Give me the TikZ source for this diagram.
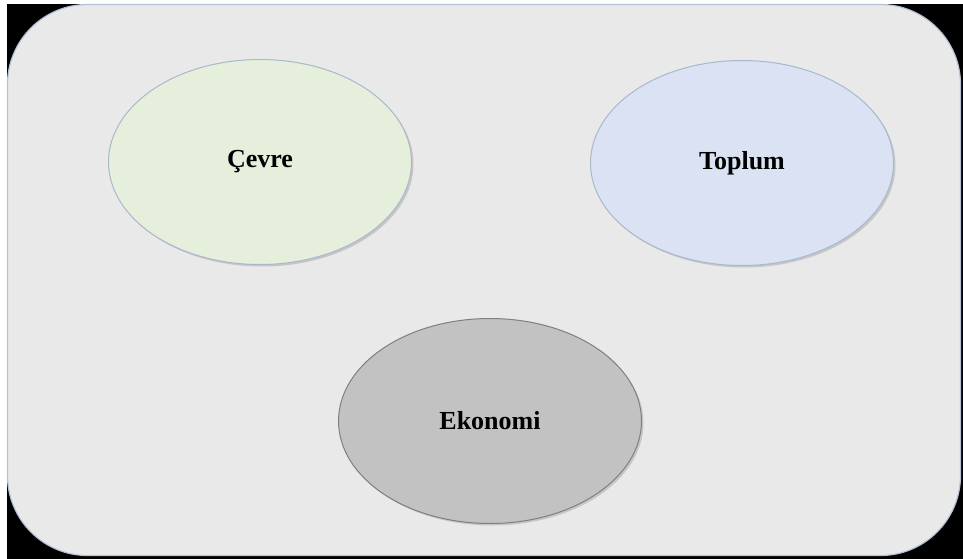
\documentclass[tikz,border=0pt]{standalone}
\usepackage{fontspec}
\setmainfont{Liberation Serif}
\usetikzlibrary{shapes.geometric,shadows}
\definecolor{panel}{HTML}{E9E9E9}
\definecolor{panelline}{HTML}{B3C2D6}
\definecolor{greenfill}{HTML}{E5EFDC}
\definecolor{bluefill}{HTML}{DAE2F4}
\definecolor{grayfill}{HTML}{C2C2C2}
\definecolor{ovalline}{HTML}{A9B8CC}
\definecolor{grayline}{HTML}{7F7F7F}
\tikzset{
  oval/.style={ellipse, minimum width=303pt, minimum height=205pt, inner sep=0pt,
    draw=ovalline, line width=1pt, font=\bfseries\fontsize{26}{30}\selectfont,
    drop shadow={shadow xshift=2pt, shadow yshift=-2pt, fill=black, opacity=0.15}},
}
\begin{document}
\begin{tikzpicture}[x=1pt,y=-1pt]
\useasboundingbox (0,0) rectangle (963,559);
\fill[white] (0,0) rectangle (963,559);
\fill[black] (7,4) rectangle (963,559);
\node[draw=panelline, fill=panel, line width=1.2pt, rounded corners=80pt,
  minimum width=953pt, minimum height=551pt, inner sep=0pt] (panel) at (484,280) {};
\node[oval, fill=greenfill] (cevre) at (260,162) {Çevre};
\node[oval, fill=bluefill] (toplum) at (742,163) {Toplum};
\node[oval, fill=grayfill, draw=grayline] (ekonomi) at (490,421) {Ekonomi};
\end{tikzpicture}
\end{document}
